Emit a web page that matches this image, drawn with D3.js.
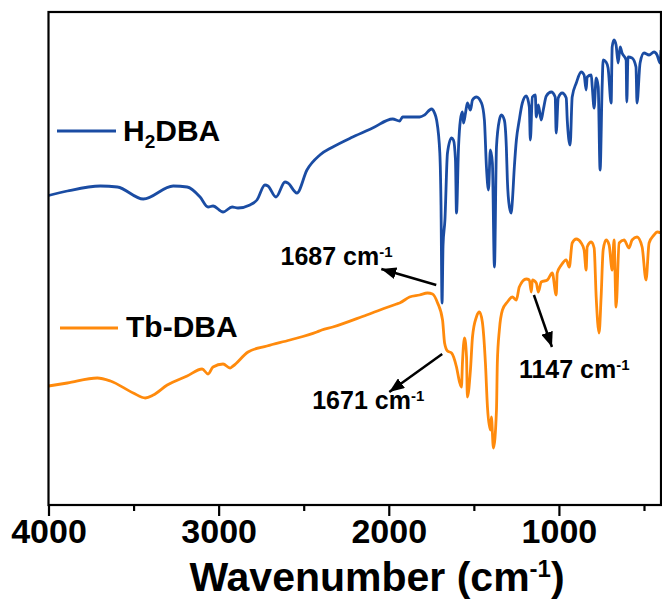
<!DOCTYPE html>
<html><head><meta charset="utf-8">
<script src="https://cdn.jsdelivr.net/npm/d3@7"></script>
<style>
body{margin:0;background:#fff}
text{font-family:"Liberation Sans",Arial,sans-serif;font-weight:bold;fill:#000}
</style>
</head><body>
<svg id="c" width="662" height="599"></svg>
<script>
// [wavenumber (cm-1), transmittance (a.u.)]
const h2dba = [[4000,61.9],[3889,62.8],[3695,63.8],[3595,63.6],[3443,61.2],[3267,63.8],[3185,63.6],[3109,61.6],[3062,59.6],[3033,59.8],[2974,58.6],[2921,59.6],[2886,59.4],[2816,60.0],[2775,61.0],[2728,64.0],[2710,63.8],[2663,61.6],[2610,64.6],[2593,64.4],[2540,62.4],[2481,67.0],[2405,70.0],[2329,71.6],[2212,73.6],[2095,75.4],[1977,77.2],[1936,76.8],[1919,77.6],[1878,77.6],[1819,77.6],[1790,78.0],[1749,79.2],[1731,78.4],[1719,77.0],[1700,70.4],[1693,60.0],[1687,40.4],[1681,52.0],[1670,57.0],[1655,70.4],[1631,73.4],[1620,73.0],[1608,69.0],[1602,58.4],[1590,71.6],[1579,77.0],[1567,78.6],[1561,76.4],[1549,78.4],[1538,80.4],[1520,79.0],[1508,81.0],[1485,81.6],[1455,80.4],[1438,77.0],[1426,67.6],[1414,63.0],[1403,71.0],[1391,68.4],[1379,47.6],[1367,71.6],[1350,77.0],[1338,78.0],[1321,77.0],[1309,71.6],[1303,65.0],[1291,59.6],[1280,58.4],[1274,60.6],[1262,67.6],[1250,73.0],[1233,77.0],[1215,80.4],[1192,81.8],[1174,79.6],[1168,73.0],[1156,81.6],[1139,82.0],[1133,77.6],[1121,80.0],[1104,77.0],[1092,79.0],[1074,81.8],[1045,82.6],[1022,81.6],[1016,74.4],[1004,81.4],[981,82.4],[957,81.4],[951,77.0],[934,72.0],[922,81.6],[898,84.4],[869,86.6],[852,86.0],[840,83.0],[834,85.6],[810,86.0],[804,83.6],[793,79.4],[781,85.4],[769,83.6],[758,67.0],[746,83.6],[740,89.0],[723,88.6],[711,87.4],[693,80.4],[687,91.6],[676,93.0],[664,92.0],[652,88.4],[640,91.6],[629,90.4],[605,89.0],[601,80.6],[594,89.6],[570,89.4],[547,87.6],[541,80.4],[523,88.4],[500,90.4],[470,90.0],[441,90.6],[423,90.0],[406,88.4],[400,91.0]];

const tbdba = [[4000,23.8],[3889,24.4],[3713,25.4],[3636,24.8],[3502,22.4],[3431,21.4],[3384,22.0],[3302,24.0],[3185,25.8],[3097,27.2],[3062,26.2],[3033,27.6],[2974,28.2],[2933,27.4],[2915,27.8],[2827,30.6],[2716,31.8],[2581,33.0],[2423,34.6],[2394,35.0],[2329,35.6],[2130,38.0],[1954,40.2],[1936,40.4],[1878,41.6],[1819,42.0],[1772,42.4],[1743,42.2],[1713,40.4],[1684,37.0],[1672,32.4],[1655,30.8],[1631,30.4],[1602,27.6],[1584,24.6],[1573,23.6],[1567,28.4],[1555,33.4],[1543,29.6],[1538,21.6],[1520,27.0],[1508,33.6],[1485,37.6],[1467,38.6],[1450,36.6],[1432,28.4],[1420,19.6],[1403,15.0],[1397,17.6],[1385,11.4],[1367,19.0],[1362,28.4],[1350,35.0],[1332,39.0],[1303,40.6],[1274,41.6],[1250,41.0],[1233,43.6],[1192,45.2],[1174,45.0],[1162,42.6],[1156,45.0],[1133,44.4],[1121,42.6],[1104,44.6],[1068,45.0],[1039,46.4],[1016,42.0],[1010,46.4],[986,48.0],[957,49.0],[939,47.6],[922,52.4],[898,53.2],[869,52.4],[852,51.0],[840,47.0],[834,51.6],[810,52.6],[793,51.4],[781,41.6],[764,34.4],[752,41.6],[740,51.0],[723,53.0],[705,52.0],[687,47.0],[676,53.0],[664,39.6],[646,52.4],[617,53.0],[588,51.4],[570,53.0],[541,53.6],[511,51.6],[488,45.0],[470,52.4],[441,54.0],[423,54.6],[400,54.4]];

const seriesNames = ["H2DBA", "Tb-DBA"];
const seriesColors = ["#1a4ca3", "#ff8a0c"];
const majorTicks = [4000, 3000, 2000, 1000];
const minorTicks = [3500, 2500, 1500, 500];
const xTitle = "Wavenumber (cm";
const annotations = [
  {label: "1687 cm", tail: [1721, 44.0], tip: [2044, 47.2], at: [2636, 48.0]},
  {label: "1671 cm", tail: [1686, 30.2], tip: [1997, 22.6], at: [2450, 19.2]},
  {label: "1147 cm", tail: [1147, 42.0], tip: [1041, 31.6], at: [1235, 25.4]}
];

const m = {left: 48.5, right: 661, top: 12, bottom: 505};
const svg = d3.select("#c");

const x = d3.scaleLinear().domain([4000, 400]).range([m.left, m.right]);
const y = d3.scaleLinear().domain([0, 98.6]).range([m.bottom, m.top]);

svg.append("defs").append("marker")
  .attr("id", "ah").attr("markerUnits", "userSpaceOnUse")
  .attr("markerWidth", 16).attr("markerHeight", 12)
  .attr("refX", 15).attr("refY", 6).attr("orient", "auto")
  .append("path").attr("d", "M0,0 L15,6 L0,12 Z").attr("fill", "#000");

// lines
const line = d3.line().x(d => x(d[0])).y(d => y(d[1])).curve(d3.curveMonotoneX);
[h2dba, tbdba].forEach((s, i) => {
  svg.append("path").datum(s).attr("d", line)
    .attr("fill", "none").attr("stroke", seriesColors[i])
    .attr("stroke-width", 2.8).attr("stroke-linejoin", "round");
});

// frame
svg.append("rect").attr("x", m.left).attr("y", m.top)
  .attr("width", m.right - m.left).attr("height", m.bottom - m.top)
  .attr("fill", "none").attr("stroke", "#000").attr("stroke-width", 2.2);

// axes
const gx = svg.append("g").attr("transform", `translate(0,${m.bottom})`)
  .call(d3.axisBottom(x).tickValues(majorTicks).tickSize(11).tickSizeOuter(0).tickPadding(3).tickFormat(d3.format("d")));
gx.select(".domain").remove();
gx.selectAll("line").attr("stroke-width", 2.2);
gx.selectAll("text").style("font-size", "34px").attr("font-family", null);

const gm = svg.append("g").attr("transform", `translate(0,${m.bottom})`)
  .call(d3.axisBottom(x).tickValues(minorTicks).tickSize(6).tickSizeOuter(0).tickFormat(""));
gm.select(".domain").remove();
gm.selectAll("line").attr("stroke-width", 2.2);

// x title
const tt = svg.append("text").attr("x", 377).attr("y", 591).attr("text-anchor", "middle").style("font-size", "41px");
tt.append("tspan").text(xTitle);
tt.append("tspan").attr("dy", -14).style("font-size", "24px").text("-1");
tt.append("tspan").attr("dy", 14).text(")");

// legend
const legendPos = [{lx1: 57, lx2: 116, ly: 131, tx: 123, ty: 141}, {lx1: 60, lx2: 118, ly: 328, tx: 126, ty: 337}];
legendPos.forEach((p, i) => {
  svg.append("line").attr("x1", p.lx1).attr("x2", p.lx2).attr("y1", p.ly).attr("y2", p.ly)
    .attr("stroke", seriesColors[i]).attr("stroke-width", 3);
  const t = svg.append("text").attr("x", p.tx).attr("y", p.ty).style("font-size", "30px");
  if (i === 0) {
    t.append("tspan").text("H");
    t.append("tspan").attr("dy", 7).style("font-size", "19px").text("2");
    t.append("tspan").attr("dy", -7).text("DBA");
  } else {
    t.text(seriesNames[1]);
  }
});

// annotations
annotations.forEach(a => {
  svg.append("line")
    .attr("x1", x(a.tail[0])).attr("y1", y(a.tail[1]))
    .attr("x2", x(a.tip[0])).attr("y2", y(a.tip[1]))
    .attr("stroke", "#000").attr("stroke-width", 2.5).attr("marker-end", "url(#ah)");
  const t = svg.append("text").attr("x", x(a.at[0])).attr("y", y(a.at[1])).style("font-size", "25px");
  t.append("tspan").text(a.label);
  t.append("tspan").attr("dy", -8).style("font-size", "15px").text("-1");
});
</script>
</body></html>
